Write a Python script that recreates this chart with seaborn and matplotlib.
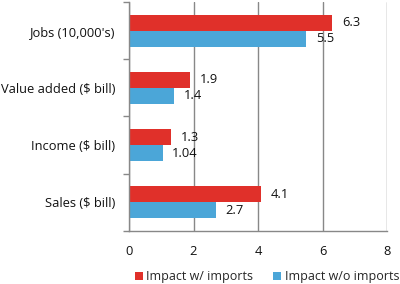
import matplotlib
matplotlib.use("Agg")
import matplotlib.pyplot as plt
import seaborn as sns
import pandas as pd

categories = ["Jobs (10,000's)", "Value added ($ bill)", "Income ($ bill)", "Sales ($ bill)"]
series_names = ["Impact w/ imports", "Impact w/o imports"]
with_imports = [6.3, 1.9, 1.3, 4.1]
without_imports = [5.5, 1.4, 1.04, 2.7]
with_labels = ["6.3", "1.9", "1.3", "4.1"]
without_labels = ["5.5", "1.4", "1.04", "2.7"]
x_ticks = [0, 2, 4, 6, 8]

sns.set_theme(style="white")
plt.rcParams['font.family'] = ['Open Sans', 'DejaVu Sans']

df = pd.DataFrame({
    "category": categories * 2,
    "series": [series_names[0]] * 4 + [series_names[1]] * 4,
    "value": with_imports + without_imports,
})

fig = plt.figure(figsize=(4.0, 2.84), dpi=100)
ax = fig.add_axes([0.3225, 0.187, 0.645, 0.806])

palette = {series_names[0]: "#E0302A", series_names[1]: "#4BA6D8"}
sns.barplot(data=df, y="category", x="value", hue="series", order=categories,
            hue_order=series_names, palette=palette, orient="h", width=0.56,
            saturation=1, ax=ax, edgecolor="none", legend=True)

fs = 9.3
for cont, labs in zip(ax.containers, [with_labels, without_labels]):
    ax.bar_label(cont, labels=labs, padding=7, fontsize=fs, color="#111111")

ax.set_xlim(0, 8)
ax.set_ylim(3.5, -0.5)
ax.set_xticks(x_ticks)
ax.set_xticklabels([str(t) for t in x_ticks], fontsize=fs, color="#111111")
ax.tick_params(axis="x", length=0, pad=10)
ax.set_yticks(range(len(categories)))
ax.set_yticklabels(categories, fontsize=fs, color="#111111")
ax.set_yticks([-0.5, 0.5, 1.5, 2.5, 3.5], minor=True)
ax.tick_params(axis="y", which="major", length=0, pad=10)
ax.tick_params(axis="y", which="minor", length=4, width=1, color="#888888", left=True)
ax.set_xlabel("")
ax.set_ylabel("")
ax.grid(axis="x", color="#888888", linewidth=1)
ax.set_axisbelow(True)
for s in ["top", "right"]:
    ax.spines[s].set_visible(False)
for s in ["left", "bottom"]:
    ax.spines[s].set_color("#888888")
    ax.spines[s].set_linewidth(1)

ax.legend(loc="center", bbox_to_anchor=(0.535, -0.2), ncol=2, frameon=False,
          fontsize=9, handlelength=0.6, handleheight=0.6, handletextpad=0.3,
          columnspacing=1.6, borderaxespad=0, borderpad=0)

fig.savefig("out.png", dpi=100)
